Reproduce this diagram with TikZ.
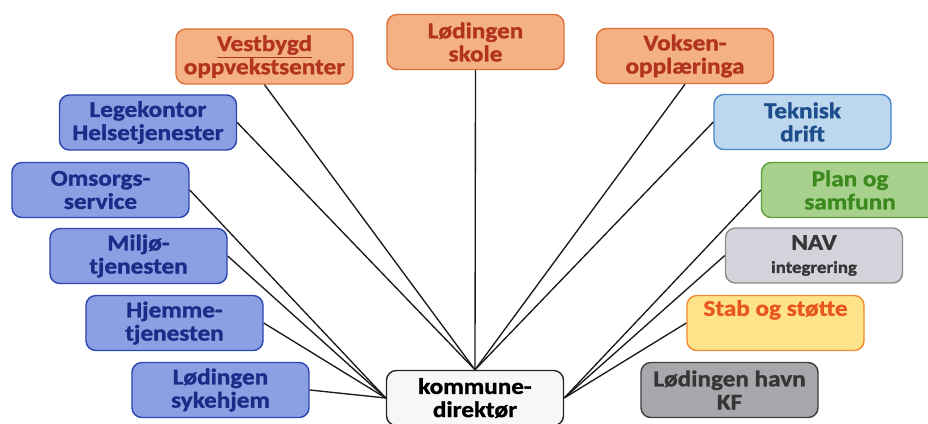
\documentclass[tikz,border=0pt]{standalone}
\usepackage{fontspec}
\setmainfont[FakeStretch=1.12, BoldFeatures={FakeBold=1.3}]{Carlito}
\usepackage{xcolor}
\usepackage{tikz}
\usetikzlibrary{positioning}
\definecolor{orfill}{HTML}{F4B183}
\definecolor{ordraw}{HTML}{E0703A}
\definecolor{ortext}{HTML}{B3341E}
\definecolor{blfill}{HTML}{8C9FE3}
\definecolor{bldraw}{HTML}{2B46B0}
\definecolor{bltext}{HTML}{1C2A88}
\definecolor{tkfill}{HTML}{BDD7EE}
\definecolor{tkdraw}{HTML}{4A86C8}
\definecolor{tktext}{HTML}{1F4E8C}
\definecolor{plfill}{HTML}{A9D18E}
\definecolor{pldraw}{HTML}{5E9E3C}
\definecolor{pltext}{HTML}{3C8A1E}
\definecolor{nvfill}{HTML}{D3D3DB}
\definecolor{nvdraw}{HTML}{8C8C8C}
\definecolor{nvtext}{HTML}{363636}
\definecolor{stfill}{HTML}{FFE38A}
\definecolor{stdraw}{HTML}{F08A30}
\definecolor{sttext}{HTML}{E8571E}
\definecolor{hvfill}{HTML}{A8A8AC}
\definecolor{hvdraw}{HTML}{404040}
\definecolor{kmfill}{HTML}{F6F7F9}

\begin{document}
\begin{tikzpicture}[x=0.025cm, y=-0.025cm,
  enhet/.style={rounded corners=7pt, line width=1pt, minimum width=4.425cm, minimum height=1.375cm, align=center, inner sep=2pt, font=\bfseries\fontsize{16}{16.5}\selectfont},
  oransje/.style={enhet, draw=ordraw, fill=orfill, text=ortext},
  blaa/.style={enhet, draw=bldraw, fill=blfill, text=bltext},
  lysblaa/.style={enhet, draw=tkdraw, fill=tkfill, text=tktext},
  groenn/.style={enhet, draw=pldraw, fill=plfill, text=pltext},
  graa/.style={enhet, draw=nvdraw, fill=nvfill, text=nvtext},
  gul/.style={enhet, draw=stdraw, fill=stfill, text=sttext},
  moerk/.style={enhet, draw=hvdraw, fill=hvfill, text=nvtext},
  leder/.style={enhet, draw=black!85, fill=kmfill, text=black},
  linje/.style={black!90, line width=0.95pt}
]
  \useasboundingbox (0,0) rectangle (928,423);
  \fill[white] (0,0) rectangle (928,423);

  % kommunedirektoer
  \node[leder] (kom) at (475,398) {kommune-\\direktør};

  % oppvekst
  \node[oransje] (vest) at (264.5,56.5) {\underline{Vestbygd}\\oppvekstsenter};
  \node[oransje] (skole) at (475.5,42) {Lødingen\\skole};
  \node[oransje] (voksen) at (685,56) {Voksen-\\opplæringa};

  % helse og omsorg
  \node[blaa] (lege) at (148,122.5) {Legekontor\\Helsetjenester};
  \node[blaa] (omsorg) at (100.5,190) {Omsorgs-\\service};
  \node[blaa] (miljo) at (138.5,256) {Miljø-\\tjenesten};
  \node[blaa] (hjemme) at (174.5,323) {Hjemme-\\tjenesten};
  \node[blaa] (syke) at (220.5,390) {Lødingen\\sykehjem};

  % hoeyre side
  \node[lysblaa] (teknisk) at (802.5,122) {Teknisk\\drift};
  \node[groenn] (plan) at (850,190) {Plan og\\samfunn};
  \node[graa] (nav) at (814,255.5) {NAV\\{\fontsize{12}{14}\selectfont integrering}};
  \node[gul] (stab) at (775.5,323) {Stab og støtte\\\strut};
  \node[moerk] (havn) at (729.5,390) {Lødingen havn\\KF};

  \draw[linje] (vest.south) -- (kom.north);
  \draw[linje] (skole.south) -- (kom.north);
  \draw[linje] (voksen.south) -- (kom.north);
  \draw[linje] (lege.east) -- (kom.north);
  \draw[linje] (teknisk.west) -- (kom.north);
  \draw[linje] (omsorg.east) -- (kom.west);
  \draw[linje] (miljo.east) -- (kom.west);
  \draw[linje] (hjemme.east) -- (kom.west);
  \draw[linje] (syke.east) -- (kom.west);
  \draw[linje] (plan.west) -- (kom.east);
  \draw[linje] (nav.west) -- (kom.east);
  \draw[linje] (stab.west) -- (kom.east);
\end{tikzpicture}
\end{document}
